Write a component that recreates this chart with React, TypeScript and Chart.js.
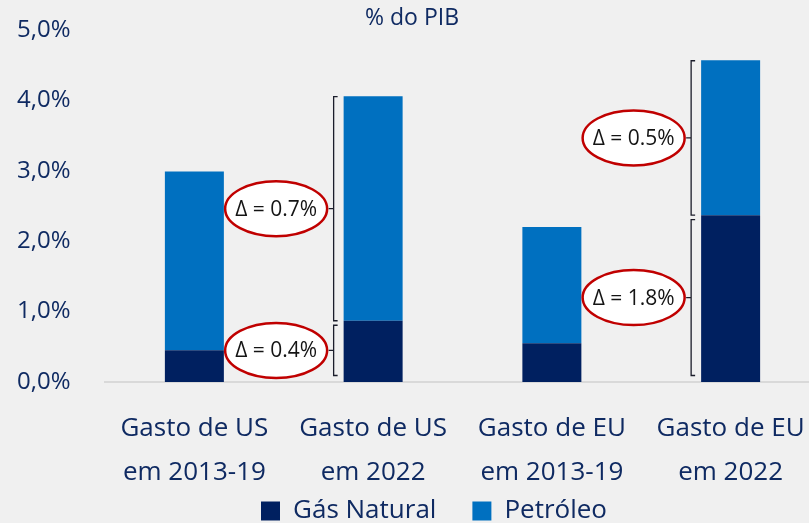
import React, { useEffect, useRef } from "react";
import { Chart, registerables } from "chart.js";

Chart.register(...registerables);

const categories: string[][] = [
  ["Gasto de US", "em 2013-19"],
  ["Gasto de US", "em 2022"],
  ["Gasto de EU", "em 2013-19"],
  ["Gasto de EU", "em 2022"],
];
const gasNatural = [0.45, 0.87, 0.55, 2.37];
const petroleo = [2.54, 3.19, 1.65, 2.2];
const seriesNames = ["Gás Natural", "Petróleo"];
const yTicks = [0, 1, 2, 3, 4, 5];

const noteBars = [1, 1, 3, 3];
const noteSeries = [1, 0, 1, 0];
const noteLabels = ["Δ = 0.7%", "Δ = 0.4%", "Δ = 0.5%", "Δ = 1.8%"];
const titleText = "% do PIB";

const NAVY = "#0f2a62";
const FONT = '"Open Sans", "Noto Sans", sans-serif';

const notesPlugin = {
  id: "deltaNotes",
  afterDatasetsDraw(chart: any) {
    const ctx = chart.ctx as CanvasRenderingContext2D;
    noteBars.forEach((bi, k) => {
      const ds = noteSeries[k];
      const el = chart.getDatasetMeta(ds).data[bi];
      if (!el) return;
      const { x, y, base, width } = el.getProps(["x", "y", "base", "width"], true);
      const top = Math.min(y, base);
      const bottom = Math.max(y, base);
      const inset = ds === 0 ? [4.5, 6.5] : [0.5, 0];
      const y1 = top + inset[0];
      const y2 = bottom - inset[1];
      const bx = x - width / 2 - 10;
      const my = (y1 + y2) / 2;
      ctx.save();
      ctx.strokeStyle = "#1b1d2b";
      ctx.lineWidth = 1.3;
      ctx.beginPath();
      ctx.moveTo(bx + 4, y1);
      ctx.lineTo(bx, y1);
      ctx.lineTo(bx, y2);
      ctx.lineTo(bx + 4, y2);
      ctx.moveTo(bx, my);
      ctx.lineTo(bx - 5, my);
      ctx.stroke();
      const cx = bx - 57.5;
      ctx.beginPath();
      ctx.ellipse(cx, my, 51, 27.5, 0, 0, Math.PI * 2);
      ctx.fillStyle = "#ffffff";
      ctx.fill();
      ctx.lineWidth = 2.5;
      ctx.strokeStyle = "#c00000";
      ctx.stroke();
      ctx.fillStyle = "#141414";
      ctx.font = `21px ${FONT}`;
      ctx.textAlign = "center";
      ctx.textBaseline = "middle";
      ctx.fillText(noteLabels[k], cx, my + 1);
      ctx.restore();
    });
  },
};

const titlePlugin = {
  id: "pibTitle",
  afterDraw(chart: any) {
    const ctx = chart.ctx as CanvasRenderingContext2D;
    ctx.save();
    ctx.fillStyle = NAVY;
    ctx.font = `23px ${FONT}`;
    ctx.textAlign = "center";
    ctx.textBaseline = "middle";
    ctx.fillText(titleText, 412, 18);
    ctx.restore();
  },
};

export default function App() {
  const ref = useRef<HTMLCanvasElement | null>(null);

  useEffect(() => {
    document.body.style.margin = "0";
    const canvas = ref.current;
    if (!canvas) return;
    const chart = new Chart(canvas, {
      type: "bar",
      data: {
        labels: categories,
        datasets: [
          {
            label: seriesNames[0],
            data: gasNatural,
            backgroundColor: "#002060",
            categoryPercentage: 1,
            barPercentage: 0.33,
          },
          {
            label: seriesNames[1],
            data: petroleo,
            backgroundColor: "#0070c0",
            categoryPercentage: 1,
            barPercentage: 0.33,
          },
        ],
      },
      options: {
        animation: false,
        responsive: false,
        maintainAspectRatio: false,
        layout: { padding: { top: 30, left: 17, right: 0, bottom: 0 } },
        plugins: {
          title: { display: false },
          tooltip: { enabled: false },
          legend: {
            position: "bottom",
            labels: {
              boxWidth: 19,
              boxHeight: 19,
              padding: 36,
              color: NAVY,
              font: { family: FONT, size: 26 },
            },
          },
        },
        scales: {
          x: {
            stacked: true,
            grid: { display: false, drawTicks: false },
            border: { display: true, color: "#d9d9d9", width: 2 },
            ticks: {
              color: NAVY,
              font: { family: FONT, size: 26, lineHeight: 1.673 },
              padding: 25,
              maxRotation: 0,
              autoSkip: false,
            },
            afterFit: (s: any) => {
              s.height = 80;
              s._computeLabelArea = () => undefined;
            },
          },
          y: {
            stacked: true,
            min: yTicks[0],
            max: yTicks[yTicks.length - 1],
            grid: { display: false, drawTicks: false },
            border: { display: false },
            afterBuildTicks: (s: any) => {
              s.ticks = yTicks.map((v) => ({ value: v }));
            },
            ticks: {
              color: NAVY,
              font: { family: FONT, size: 24 },
              padding: 0,
              crossAlign: "far",
              callback: (v: any) => Number(v).toFixed(1).replace(".", ",") + "%",
            },
            afterFit: (s: any) => {
              s.width = 88;
            },
          },
          yRight: {
            type: "linear",
            position: "right",
            display: true,
            grid: { display: false, drawTicks: false },
            border: { display: false },
            ticks: { display: false },
            afterFit: (s: any) => {
              s.width = 31;
            },
          },
        },
      },
      plugins: [notesPlugin, titlePlugin],
    } as any);
    return () => chart.destroy();
  }, []);

  return (
    <div
      style={{
        position: "absolute",
        left: 0,
        top: 0,
        width: 809,
        height: 523,
        overflow: "hidden",
        background: "#f0f0f0",
      }}
    >
      <canvas ref={ref} width={851} height={534} style={{ display: "block", width: 851, height: 534 }} />
    </div>
  );
}
